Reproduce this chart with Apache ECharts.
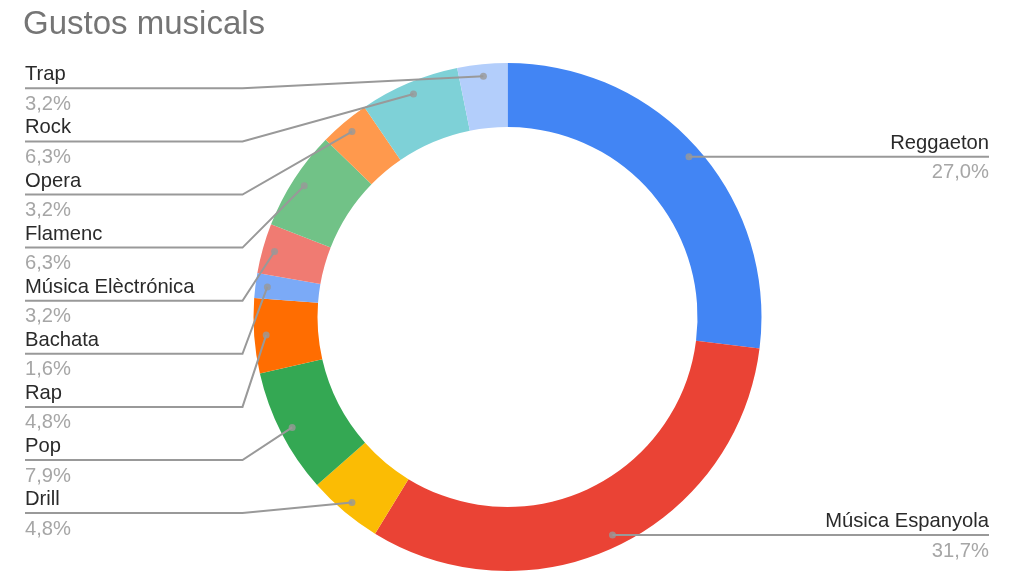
<!DOCTYPE html>
<html><head><meta charset="utf-8">
<script src="https://cdn.jsdelivr.net/npm/echarts@6/dist/echarts.min.js"></script>
<style>html,body{margin:0;padding:0;background:#fff}#chart{width:1024px;height:574px}</style>
</head><body><div id="chart"></div>
<script>
const chartTitle = 'Gustos musicals';
const categories = ['Reggaeton','Música Espanyola','Drill','Pop','Rap','Bachata','Música Elèctrónica','Flamenc','Opera','Rock','Trap'];
const values = [17, 20, 3, 5, 3, 1, 2, 4, 2, 4, 2];
const colors = ['#4285F4','#EA4335','#FBBC04','#34A853','#FF6D01','#7BAAF7','#F07B72','#71C287','#FF994D','#7ED1D7','#B3CEFB'];

const total = values.reduce((a, b) => a + b, 0);
const CX = 507.5, CY = 317, R0 = 190, R1 = 254, RDOT = 242;
const LEFT_EDGE = 25, RIGHT_EDGE = 989, ELBOW_X = 242.5, LEFT_TOP = 88.3, LEFT_STEP = 53.1;
const FONT = '"Liberation Sans", Arial, sans-serif';

const mids = [];
let acc = 0;
values.forEach(v => { mids.push(acc + v / 2); acc += v; });

function pct(v) { return (v / total * 100).toFixed(1).replace('.', ','); }

const chart = echarts.init(document.getElementById('chart'), null, { renderer: 'canvas' });

chart.setOption({
  animation: false,
  title: {
    text: chartTitle, left: 23, top: 8, padding: 0,
    textStyle: { fontFamily: FONT, fontSize: 33, fontWeight: 'normal', color: '#757575' }
  },
  polar: { center: [CX, CY], radius: R1 },
  angleAxis: { type: 'value', min: 0, max: total, startAngle: 90, clockwise: true, show: false },
  radiusAxis: { type: 'value', min: 0, max: R1, show: false },
  series: [
    {
      type: 'pie', center: [CX, CY], radius: [R0, R1], startAngle: 90, clockwise: true,
      silent: true, z: 2,
      data: categories.map((c, i) => ({ name: c, value: values[i], itemStyle: { color: colors[i] } })),
      label: { show: false }, labelLine: { show: false }
    },
    {
      type: 'pie', center: [CX, CY], radius: [R0, R1], startAngle: 90, clockwise: true,
      avoidLabelOverlap: false, silent: true, z: 4,
      data: categories.map((c, i) => ({ name: c, value: values[i] })),
      itemStyle: { color: 'rgba(0,0,0,0)' },
      label: {
        show: true, position: 'outer',
        formatter: p => '{n|' + p.name + '}\n{p|' + pct(p.value) + '%}',
        rich: {
          n: { fontFamily: FONT, fontSize: 20.2, color: '#2a2a2a', lineHeight: 32 },
          p: { fontFamily: FONT, fontSize: 20.2, color: '#a6a6a6', lineHeight: 27 }
        }
      },
      labelLine: { show: true, length: 10, length2: 10, lineStyle: { color: '#999999', width: 2 } },
      labelLayout: function (params) {
        const pts = params.labelLinePoints;
        if (!pts) return {};
        const p0 = pts[0];
        const k = RDOT / R1;
        const dx = CX + (p0[0] - CX) * k, dy = CY + (p0[1] - CY) * k;
        if (p0[0] >= CX) {
          return {
            x: RIGHT_EDGE, y: dy, align: 'right', verticalAlign: 'middle',
            labelLinePoints: [[dx, dy], [dx + 1, dy], [RIGHT_EDGE, dy]]
          };
        }
        const slot = categories.length - 1 - params.dataIndex;
        const ly = LEFT_TOP + slot * LEFT_STEP;
        return {
          x: LEFT_EDGE, y: ly, align: 'left', verticalAlign: 'middle',
          labelLinePoints: [[dx, dy], [ELBOW_X, ly], [LEFT_EDGE, ly]]
        };
      }
    },
    {
      type: 'scatter', coordinateSystem: 'polar', silent: true, z: 6,
      data: mids.map(m => [RDOT, m]), symbolSize: 7,
      itemStyle: { color: '#999999' }
    }
  ]
});
</script>
</body></html>
